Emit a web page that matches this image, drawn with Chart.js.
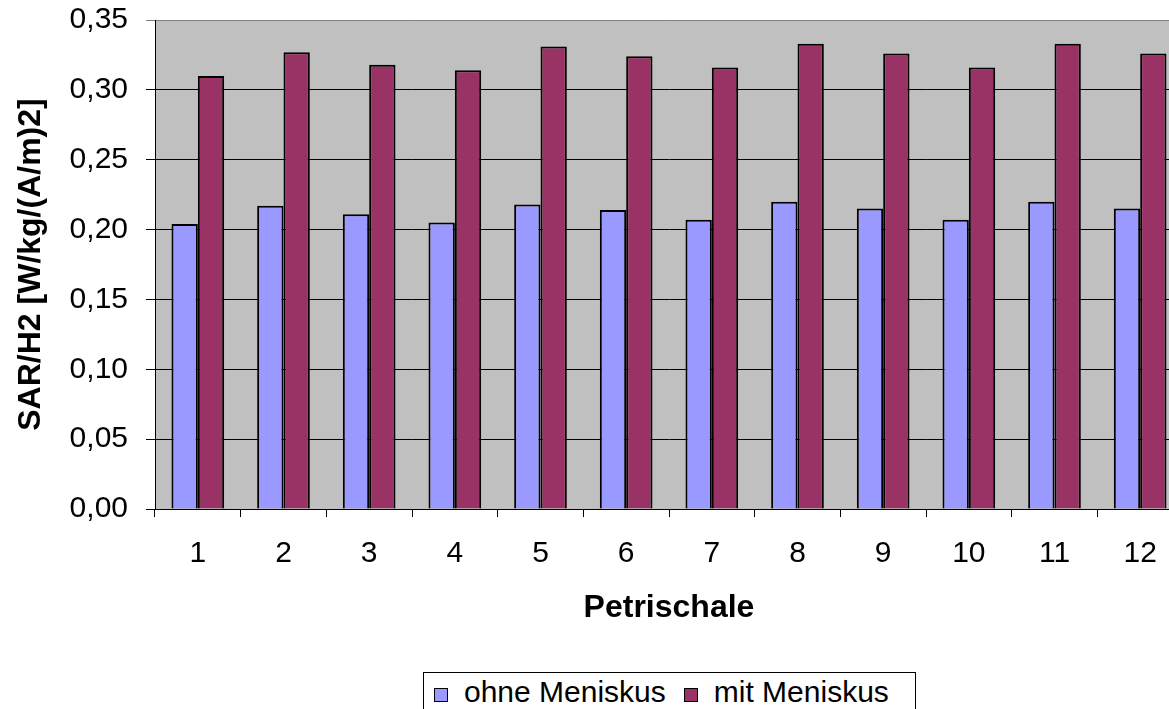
<!DOCTYPE html>
<html>
<head>
<meta charset="utf-8">
<script src="https://cdn.jsdelivr.net/npm/chart.js@4/dist/chart.umd.min.js"></script>
<style>
  html, body { margin: 0; padding: 0; background: #fff; overflow: hidden; }
  #wrap { position: relative; width: 1169px; height: 709px; overflow: hidden; }
  #c { position: absolute; left: 0; top: 0; }
  #legend {
    position: absolute; left: 423px; top: 672px; width: 481px; height: 60px;
    border: 1px solid #000; background: #fff; box-sizing: content-box;
    padding: 2px 0 0 10px; white-space: nowrap;
    font-family: "Liberation Sans", Arial, sans-serif; font-size: 30px; line-height: 34px; color: #000;
  }
  #legend .item { display: inline-block; margin-right: 18px; }
  #legend .sw { display: inline-block; width: 12px; height: 12px; border: 1px solid #000; margin-right: 16px; vertical-align: baseline; }
</style>
</head>
<body>
<div id="wrap">
  <canvas id="c" width="1183" height="709"></canvas>
  <div id="legend"></div>
</div>
<script>
// Petrischale 1..12
const categories = ['1', '2', '3', '4', '5', '6', '7', '8', '9', '10', '11', '12'];
const seriesNames = ['ohne Meniskus', 'mit Meniskus'];
const ohneMeniskus = [0.204, 0.217, 0.211, 0.205, 0.218, 0.214, 0.207, 0.220, 0.215, 0.207, 0.220, 0.215];
const mitMeniskus  = [0.310, 0.327, 0.318, 0.314, 0.331, 0.324, 0.316, 0.333, 0.326, 0.316, 0.333, 0.326];
const yTicks = [0, 0.05, 0.10, 0.15, 0.20, 0.25, 0.30, 0.35];
const colors = ['#9999FF', '#993366'];

const FONT = '"Liberation Sans", Arial, sans-serif';

// grey plot area background
const plotBg = {
  id: 'plotBg',
  beforeDraw(chart) {
    const { ctx, chartArea: a } = chart;
    ctx.save();
    ctx.fillStyle = '#C0C0C0';
    ctx.fillRect(a.left, a.top, a.right - a.left, a.bottom - a.top);
    ctx.restore();
  }
};

new Chart(document.getElementById('c'), {
  type: 'bar',
  data: {
    labels: categories,
    datasets: [
      { label: seriesNames[0], data: ohneMeniskus, backgroundColor: colors[0], borderColor: '#000', borderWidth: 2 },
      { label: seriesNames[1], data: mitMeniskus, backgroundColor: colors[1], borderColor: '#000', borderWidth: 2 }
    ]
  },
  options: {
    responsive: false,
    animation: false,
    devicePixelRatio: 1,
    layout: { padding: { top: 20, right: 0, bottom: 80, left: 0 } },
    datasets: { bar: { categoryPercentage: 0.615, barPercentage: 1.0 } },
    plugins: {
      legend: { display: false },
      tooltip: { enabled: false }
    },
    scales: {
      x: {
        offset: true,
        grid: { offset: true, drawOnChartArea: false, color: '#000', lineWidth: 1, tickLength: 8 },
        border: { color: '#000', width: 1 },
        ticks: { color: '#000', font: { family: FONT, size: 30 }, padding: 19, maxRotation: 0, autoSkip: false },
        title: { display: true, text: 'Petrischale', color: '#000', font: { family: FONT, size: 32, weight: 'bold' }, padding: { top: 0, bottom: 2 } },
        afterFit(scale) { scale.height = 120; }
      },
      y: {
        min: 0,
        max: 0.35,
        afterBuildTicks(scale) { scale.ticks = yTicks.map(v => ({ value: v })); },
        grid: {
          color: ctx => (ctx.tick && ctx.tick.value >= 0.35 ? '#808080' : '#000'),
          lineWidth: 1,
          tickLength: 9
        },
        border: { color: '#000', width: 1 },
        ticks: {
          color: '#000',
          font: { family: FONT, size: 30 },
          padding: 18,
          callback: v => Number(v).toFixed(2).replace('.', ',')
        },
        title: { display: true, text: 'SAR/H2 [W/kg/(A/m)2]', color: '#000', font: { family: FONT, size: 32, weight: 'bold' }, padding: { top: 12, bottom: 0 } },
        afterFit(scale) {
          scale.width = 155;
          scale.paddingTop = 0;
          scale.paddingBottom = 0;
        }
      }
    }
  },
  plugins: [plotBg]
});

// legend under the plot
const legend = document.getElementById('legend');
seriesNames.forEach((name, i) => {
  const item = document.createElement('span');
  item.className = 'item';
  const sw = document.createElement('span');
  sw.className = 'sw';
  sw.style.background = colors[i];
  item.appendChild(sw);
  item.appendChild(document.createTextNode(name));
  legend.appendChild(item);
});
</script>
</body>
</html>
